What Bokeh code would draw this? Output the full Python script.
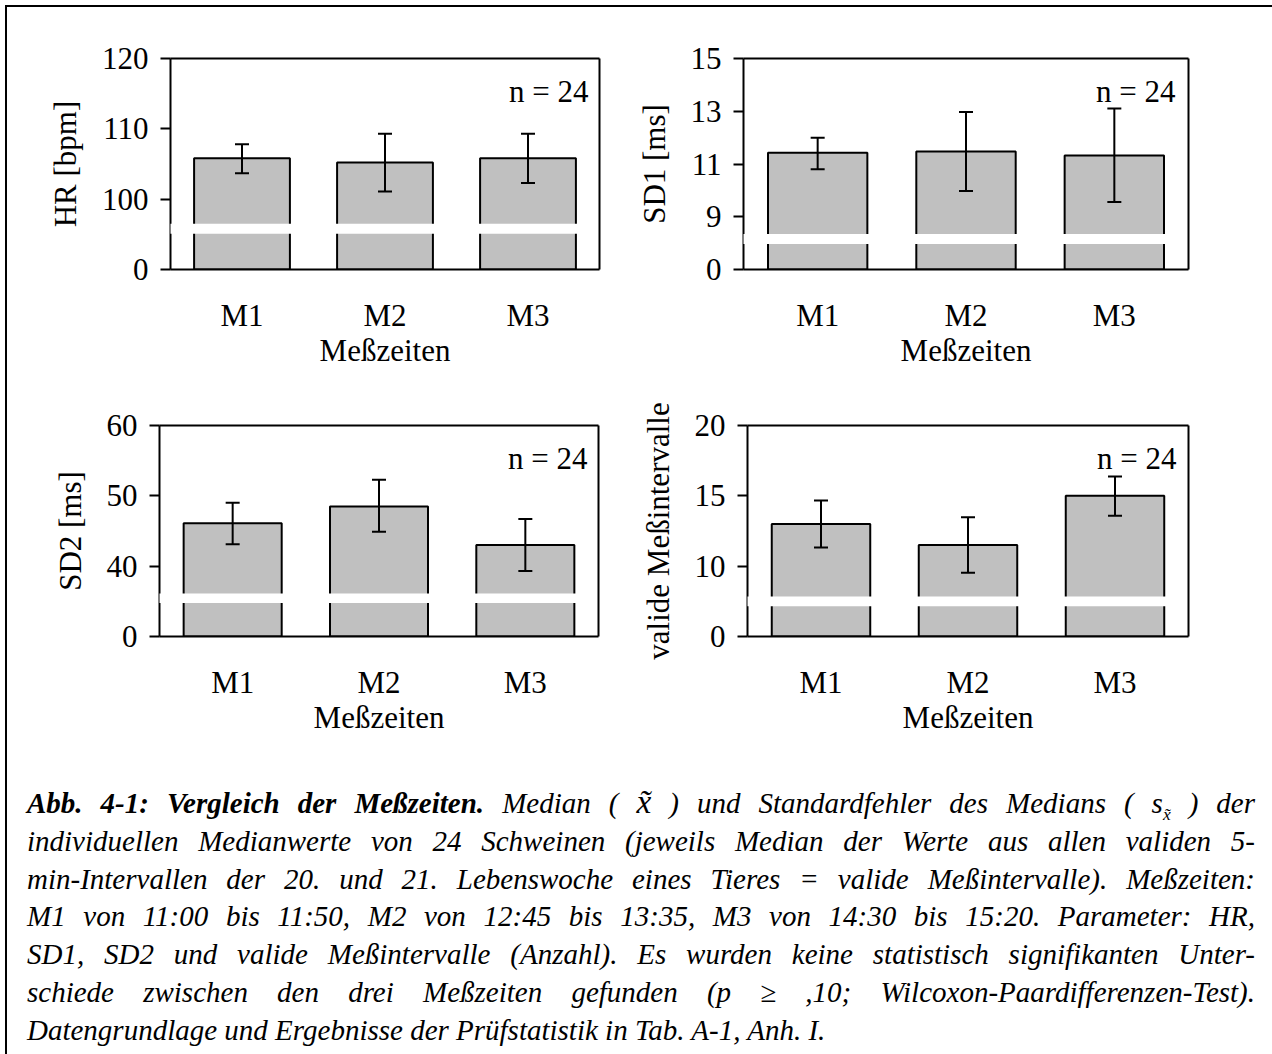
from bokeh.plotting import figure
from bokeh.models import (Range1d, FixedTicker, LinearAxis, Label, Whisker, TeeHead,
                          BoxAnnotation, ColumnDataSource, Div)
from bokeh.layouts import row, column
from bokeh.embed import file_html
from bokeh.resources import INLINE

FONT = "Liberation Serif"
FS = "31px"

# ---------------- data ----------------
categories = ["M1", "M2", "M3"]
x_title = "Meßzeiten"
n_text = "n = 24"

hr_ticks = [0, 100, 110, 120]
hr_median = [105.8, 105.2, 105.8]
hr_upper = [107.8, 109.3, 109.3]
hr_lower = [103.7, 101.1, 102.3]

sd1_ticks = [0, 9, 11, 13, 15]
sd1_median = [11.43, 11.47, 11.32]
sd1_upper = [12.0, 12.97, 13.1]
sd1_lower = [10.8, 9.98, 9.56]

sd2_ticks = [0, 40, 50, 60]
sd2_median = [46.1, 48.5, 43.0]
sd2_upper = [49.0, 52.3, 46.7]
sd2_lower = [43.1, 44.9, 39.3]

val_ticks = [0, 10, 15, 20]
val_median = [13.0, 11.5, 15.0]
val_upper = [14.67, 13.48, 16.37]
val_lower = [11.33, 9.53, 13.58]

caption_lines = [
    "<b>Abb. 4-1: Vergleich der Meßzeiten.</b> Median ( <span style='font-size:115%;line-height:0'>x̃</span> ) und Standardfehler des Medians ( s<sub style='font-size:60%;line-height:0'>x̃</sub> ) der",
    "individuellen Medianwerte von 24 Schweinen (jeweils Median der Werte aus allen validen 5-",
    "min-Intervallen der 20. und 21. Lebenswoche eines Tieres = valide Meßintervalle). Meßzeiten:",
    "M1 von 11:00 bis 11:50, M2 von 12:45 bis 13:35, M3 von 14:30 bis 15:20. Parameter: HR,",
    "SD1, SD2 und valide Meßintervalle (Anzahl). Es wurden keine statistisch signifikanten Unter-",
    "schiede zwischen den drei Meßzeiten gefunden (p ≥ ,10; Wilcoxon-Paardifferenzen-Test).",
    "Datengrundlage und Ergebnisse der Prüfstatistik in Tab. A-1, Anh. I.",
]


def to_axis(values, ticks):
    # broken axis: 0 at position 0, ticks[1] at position 1, equal steps above
    step = ticks[2] - ticks[1]
    return [1 + (v - ticks[1]) / step for v in values]


def panel(ylabel, ticks, med, upper, lower, width, height, mb_l, mb_r, mb_t, mb_b,
          band, n_dx, n_dy):
    ntick = len(ticks) - 1
    p = figure(width=width, height=height, x_range=Range1d(0, 3), y_range=Range1d(0, ntick),
               output_backend="svg", toolbar_location=None,
               min_border_left=mb_l, min_border_right=mb_r,
               min_border_top=mb_t, min_border_bottom=mb_b,
               outline_line_color=None, background_fill_color="white",
               border_fill_color="white")
    p.grid.visible = False
    xs = [i + 0.5 for i in range(len(categories))]
    src = ColumnDataSource(dict(x=xs, top=to_axis(med, ticks),
                                hi=to_axis(upper, ticks), lo=to_axis(lower, ticks)))
    p.vbar(x="x", top="top", bottom=0, width=0.67, source=src,
           fill_color="#c0c0c0", line_color="black", line_width=2)

    w = Whisker(source=src, base="x", upper="hi", lower="lo",
                line_color="black", line_width=2, level="annotation",
                upper_head=TeeHead(size=14, line_width=2, line_color="black"),
                lower_head=TeeHead(size=14, line_width=2, line_color="black"))
    p.add_layout(w)

    xa = p.xaxis[0]
    xa.ticker = FixedTicker(ticks=xs)
    xa.major_label_overrides = {x: c for x, c in zip(xs, categories)}
    xa.major_tick_out = 0
    xa.major_tick_in = 0
    xa.major_tick_line_color = None
    xa.minor_tick_line_color = None
    xa.major_label_standoff = 28
    xa.axis_label = x_title
    xa.axis_label_standoff = -3

    ya = p.yaxis[0]
    ya.ticker = FixedTicker(ticks=list(range(len(ticks))))
    ya.major_label_overrides = {i: str(t) for i, t in enumerate(ticks)}
    ya.major_tick_in = 0
    ya.major_tick_out = 10
    ya.major_tick_line_width = 2
    ya.major_tick_line_color = "black"
    ya.minor_tick_line_color = None
    ya.major_label_standoff = 12
    ya.axis_label = ylabel
    ya.axis_label_standoff = 16

    for ax in (xa, ya):
        ax.axis_line_color = "black"
        ax.axis_line_width = 2
        ax.major_label_text_font = FONT
        ax.major_label_text_font_size = FS
        ax.major_label_text_color = "black"
        ax.axis_label_text_font = FONT
        ax.axis_label_text_font_size = FS
        ax.axis_label_text_font_style = "normal"
        ax.axis_label_text_color = "black"

    for loc in ("above", "right"):
        fa = LinearAxis(ticker=FixedTicker(ticks=[]), axis_line_color="black",
                        axis_line_width=2, major_tick_line_color=None,
                        minor_tick_line_color=None, major_label_text_font_size="0px")
        p.add_layout(fa, loc)

    p.add_layout(BoxAnnotation(left=-0.012, right=xs[-1] + 0.335 + 0.012,
                               bottom=band[0], top=band[1], fill_color="white",
                               fill_alpha=1.0, line_color=None, level="overlay"))

    p.add_layout(Label(x=3, y=ntick, x_offset=n_dx, y_offset=n_dy, text=n_text,
                       text_font=FONT, text_font_size=FS, text_color="black",
                       text_align="right", text_baseline="alphabetic"))
    return p


tl = panel("HR [bpm]", hr_ticks, hr_median, hr_upper, hr_lower,
           620, 390, 163, 28, 51, 128, (0.508, 0.65), -11, -33)
tr = panel("SD1 [ms]", sd1_ticks, sd1_median, sd1_upper, sd1_lower,
           635, 390, 116, 74, 51, 128, (0.483, 0.673), -13, -33)
bl = panel("SD2 [ms]", sd2_ticks, sd2_median, sd2_upper, sd2_lower,
           620, 383, 152, 29, 28, 144, (0.476, 0.61), -11, -33)
br = panel("valide Meßintervalle", val_ticks, val_median, val_upper, val_lower,
           635, 383, 120, 74, 28, 144, (0.43, 0.57), -12, -33)

line_divs = []
for i, ln in enumerate(caption_lines):
    last = i == len(caption_lines) - 1
    align = "left" if last else "justify"
    line_divs.append(
        f"<div style='height:37.8px;line-height:37.8px;overflow:visible;"
        f"text-align:{align};text-align-last:{align};white-space:nowrap;'>{ln}</div>")
caption_html = (
    "<div style=\"font-family:'Liberation Serif';font-style:italic;font-size:29px;"
    "line-height:37.8px;color:black;width:1228px;margin-left:15px;\">"
    + "".join(line_divs) + "</div>"
)
caption = Div(text=caption_html, width=1255, height=270)

layout = column(row(tl, tr), row(bl, br), caption,
                styles={"border-left": "2px solid black", "border-top": "2px solid black",
                        "border-right": "2px solid black", "margin-left": "5px",
                        "margin-top": "5px"})

open("out.html", "w").write(file_html(layout, INLINE, title="Vergleich der Meßzeiten"))
